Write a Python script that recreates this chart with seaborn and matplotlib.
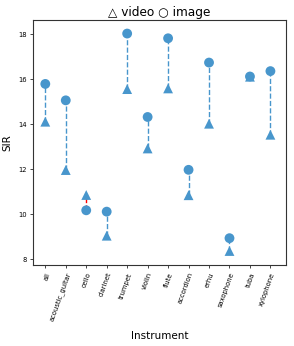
import matplotlib
matplotlib.use("Agg")
import matplotlib.pyplot as plt
import seaborn as sns
import pandas as pd

instruments = ["all", "acoustic_guitar", "cello", "clarinet", "trumpet", "violin",
               "flute", "accordion", "erhu", "saxophone", "tuba", "xylophone"]
image_sir = [15.80, 15.07, 10.18, 10.12, 18.04, 14.33, 17.83, 11.98, 16.75, 8.94, 16.13, 16.37]
video_sir = [14.12, 11.97, 10.86, 9.05, 15.57, 12.93, 15.60, 10.85, 14.03, 8.37, 16.12, 13.54]

sns.set_style("ticks")
plt.rcParams['font.family'] = ['DejaVu Sans']
color = "#4896cc"

df = pd.DataFrame({"Instrument": instruments, "image": image_sir, "video": video_sir})

fig = plt.figure(figsize=(2.94, 3.46), dpi=100)
ax = fig.add_axes([0.113, 0.233, 0.859, 0.709])

x = list(range(len(instruments)))
for xi, v, im in zip(x, video_sir, image_sir):
    c = "red" if v > im else color
    ax.vlines(xi, min(v, im), max(v, im), colors=c, linestyles="--", linewidth=1.0, zorder=1)

sns.scatterplot(x=x, y=df["video"], marker="^", s=50, color=color, edgecolor="none", ax=ax, zorder=2)
sns.scatterplot(x=x, y=df["image"], marker="o", s=50, color=color, edgecolor="none", ax=ax, zorder=3)

ax.set_xticks(x)
ax.set_xticklabels(instruments, fontsize=5)
for lbl in ax.get_xticklabels():
    lbl.set_rotation(70)
    lbl.set_ha("right")
    lbl.set_rotation_mode("anchor")
ax.set_yticks([8, 10, 12, 14, 16, 18])
ax.tick_params(axis="both", labelsize=4.9, length=2.5, width=0.6, pad=2, labelcolor="black")
ax.set_ylim(7.73, 18.64)
ax.set_xlim(-0.59, 11.75)
ax.set_xlabel("Instrument", fontsize=7.5, labelpad=6, color="black")
ax.set_ylabel("SIR", fontsize=7.5, color="black")
ax.set_title("△ video ○ image", fontsize=8.7, pad=3, color="black")
for s in ax.spines.values():
    s.set_visible(True)
    s.set_color("#333333")
    s.set_linewidth(0.8)

fig.savefig("out.png", dpi=100)
